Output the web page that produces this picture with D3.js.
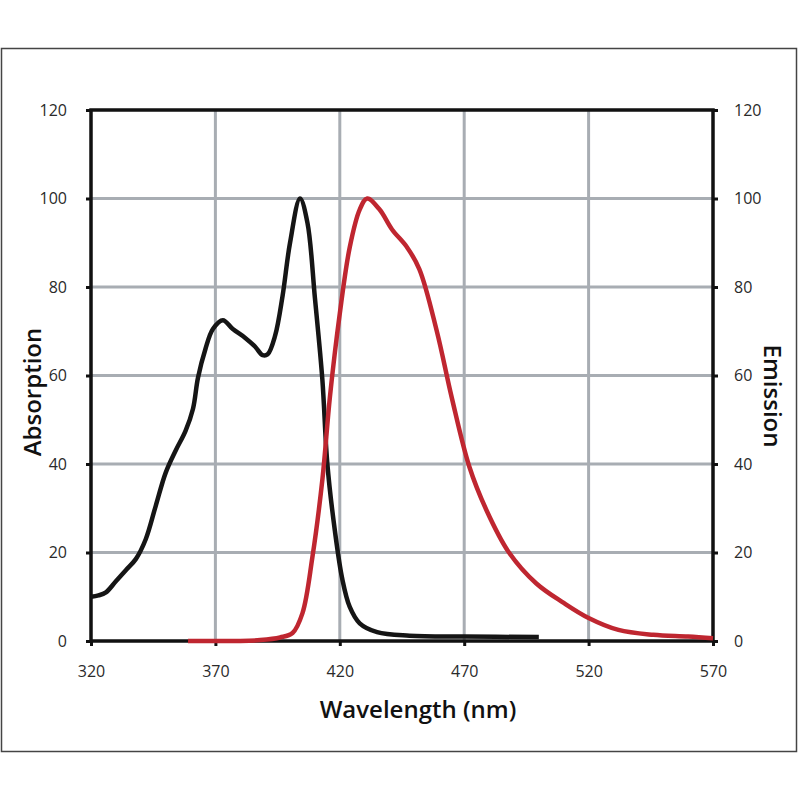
<!DOCTYPE html>
<html>
<head>
<meta charset="utf-8">
<script src="https://cdn.jsdelivr.net/npm/d3@7"></script>
<style>
  body { margin: 0; background: #fff; }
  svg { display: block; }
</style>
</head>
<body>
<div id="chart"></div>
<script>
// wavelength (nm) / relative intensity
var absWave = [320, 323, 326, 330, 334, 338, 342, 346, 350, 354, 358, 361, 363, 366, 369, 373, 377, 382, 386, 389, 391, 394, 397, 400, 404, 407, 410, 413, 415, 418, 421, 424, 428, 435, 448, 470, 500];
var absVal  = [10, 10.3, 11, 13.5, 16, 18.5, 23, 30.5, 38, 43, 47.5, 52.5, 59.5, 66, 70.5, 72.5, 70.5, 68.5, 66.5, 64.6, 64.8, 69, 78, 90, 100, 94.5, 77.5, 59, 40, 25, 14, 7.7, 4, 2, 1.2, 1, 0.9];

var emWave = [359, 370, 380, 388, 396, 401, 405, 409, 413, 416, 420, 424, 428, 431, 436, 441, 447, 452, 459, 465, 472, 479, 488, 499, 510, 520, 532, 546, 560, 570];
var emVal  = [0, 0, 0, 0.2, 0.8, 1.8, 6.3, 19, 36.5, 55, 74, 89, 97.5, 100, 97.5, 93, 89, 84, 70, 55, 39.5, 29.5, 20, 13, 8.6, 5.2, 2.5, 1.4, 1, 0.6];

var xTicks = [320, 370, 420, 470, 520, 570];
var yTicks = [0, 20, 40, 60, 80, 100, 120];

var W = 800, H = 800;
// plot box (note: "top" is taken by window.top, hence the prefix)
var plotL = 91, plotR = 713, plotT = 110, plotB = 641;

var svg = d3.select('#chart').append('svg')
    .attr('width', W).attr('height', H);

// outer frame
svg.append('rect')
    .attr('x', 1.5).attr('y', 48.5)
    .attr('width', 795).attr('height', 703)
    .attr('fill', 'none')
    .attr('stroke', '#444').attr('stroke-width', 1.5);

var x = d3.scaleLinear().domain([320, 570]).range([plotL, plotR]);
var y = d3.scaleLinear().domain([0, 120]).range([plotB, plotT]);

// grid
var grid = svg.append('g')
    .attr('stroke', '#a8adb3').attr('stroke-width', 3);
grid.selectAll('.vx').data(xTicks.slice(1, -1)).enter().append('line')
    .attr('x1', function(d){ return x(d); }).attr('x2', function(d){ return x(d); })
    .attr('y1', plotT).attr('y2', plotB);
grid.selectAll('.hy').data(yTicks.slice(1, -1)).enter().append('line')
    .attr('x1', plotL).attr('x2', plotR)
    .attr('y1', function(d){ return y(d); }).attr('y2', function(d){ return y(d); });

var tickFont = '"Open Sans", sans-serif';

function styleAxis(g) {
  g.select('.domain').remove();
  g.selectAll('.tick line').attr('stroke', '#111').attr('stroke-width', 3);
  g.selectAll('.tick text')
      .attr('fill', '#2a2a2a')
      .style('font-family', tickFont)
      .style('font-size', '16px');
}

svg.append('g')
    .attr('transform', 'translate(0,' + plotB + ')')
    .call(d3.axisBottom(x).tickValues(xTicks).tickSize(5).tickPadding(20).tickFormat(d3.format('d')))
    .call(styleAxis);

svg.append('g')
    .attr('transform', 'translate(' + plotL + ',0)')
    .call(d3.axisLeft(y).tickValues(yTicks).tickSize(5).tickPadding(19).tickFormat(d3.format('d')))
    .call(styleAxis);

svg.append('g')
    .attr('transform', 'translate(' + plotR + ',0)')
    .call(d3.axisRight(y).tickValues(yTicks).tickSize(5).tickPadding(16).tickFormat(d3.format('d')))
    .call(styleAxis);

// plot frame
svg.append('rect')
    .attr('x', plotL).attr('y', plotT)
    .attr('width', plotR - plotL).attr('height', plotB - plotT)
    .attr('fill', 'none')
    .attr('stroke', '#111').attr('stroke-width', 3.5);

var line = d3.line()
    .x(function(d){ return x(d[0]); })
    .y(function(d){ return y(d[1]); })
    .curve(d3.curveCatmullRom.alpha(0.5));

svg.append('path')
    .datum(d3.zip(absWave, absVal))
    .attr('d', line)
    .attr('fill', 'none')
    .attr('stroke', '#151515')
    .attr('stroke-width', 4.5)
    .attr('stroke-linejoin', 'round');

svg.append('path')
    .datum(d3.zip(emWave, emVal))
    .attr('d', line)
    .attr('fill', 'none')
    .attr('stroke', '#bf2630')
    .attr('stroke-width', 4.5)
    .attr('stroke-linejoin', 'round');

// axis titles
var titleFont = '"Open Sans", sans-serif';

svg.append('text')
    .attr('x', 418).attr('y', 718)
    .attr('text-anchor', 'middle')
    .style('font-family', titleFont).style('font-size', '24px').style('font-weight', 600)
    .attr('fill', '#111')
    .text('Wavelength (nm)');

svg.append('text')
    .attr('transform', 'translate(41,392) rotate(-90)')
    .attr('text-anchor', 'middle')
    .style('font-family', titleFont).style('font-size', '24px').style('font-weight', 600)
    .attr('fill', '#111')
    .text('Absorption');

svg.append('text')
    .attr('transform', 'translate(764,396) rotate(90)')
    .attr('text-anchor', 'middle')
    .style('font-family', titleFont).style('font-size', '24px').style('font-weight', 600)
    .attr('fill', '#111')
    .text('Emission');
</script>
</body>
</html>
